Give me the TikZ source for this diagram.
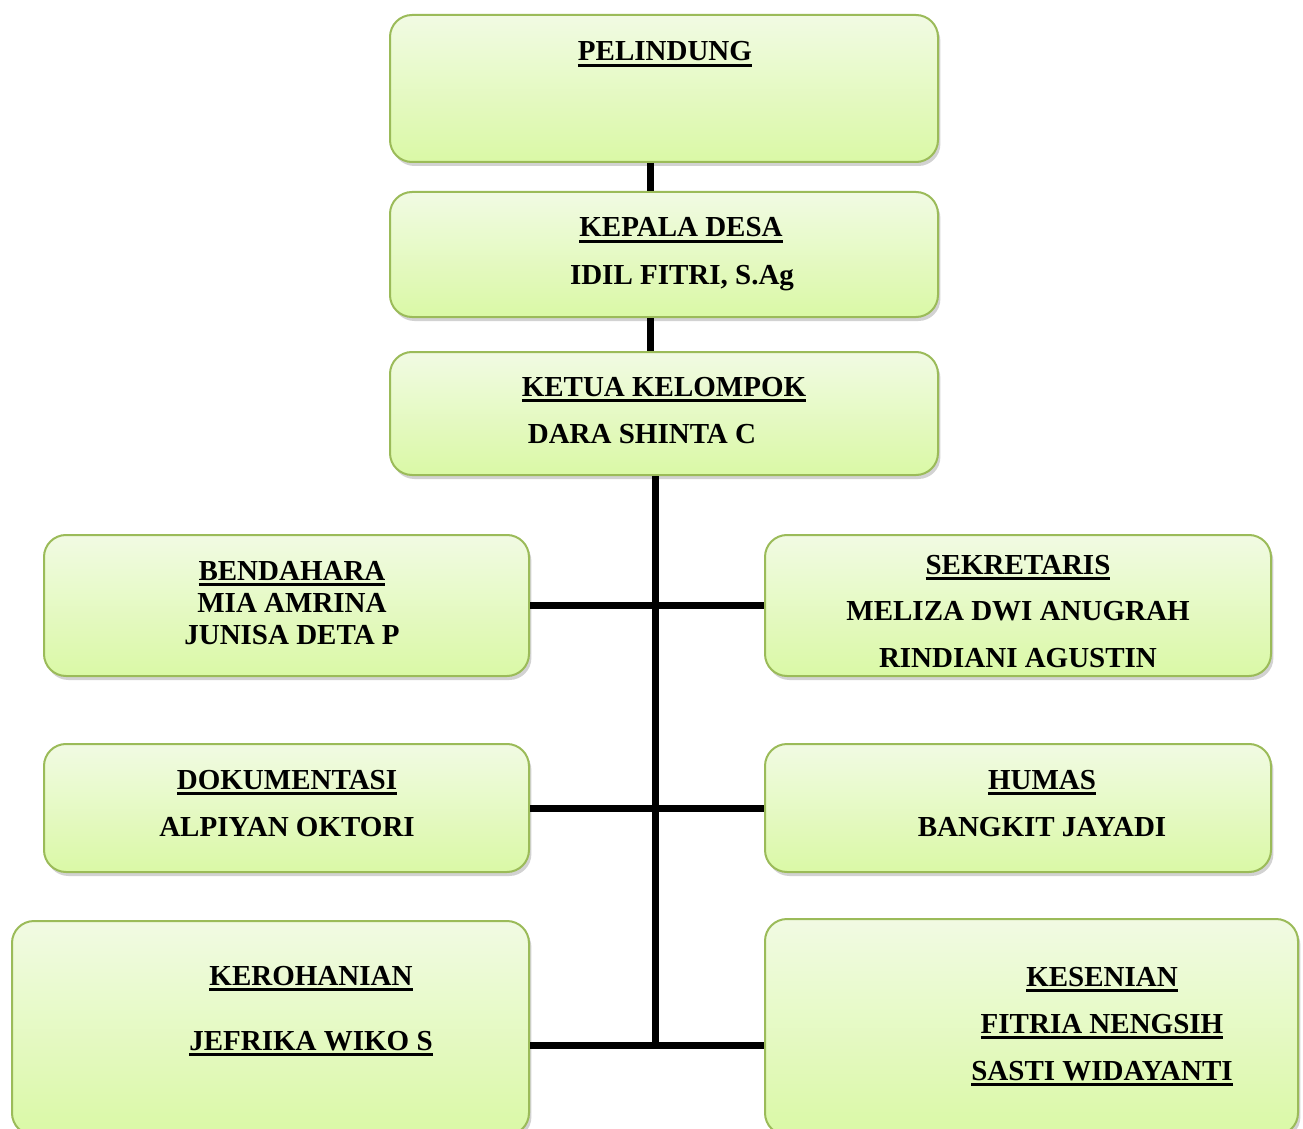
\documentclass[tikz,border=0pt]{standalone}
\usepackage{fontspec}
\setmainfont{Liberation Serif}
\usepackage{tikz}
\usetikzlibrary{shadows}
\definecolor{boxtop}{RGB}{241,250,227}
\definecolor{boxbot}{RGB}{218,249,166}
\definecolor{boxline}{RGB}{155,187,89}
\newcommand{\hd}[1]{\setbox0\hbox{#1}\rlap{\rule[-2.8pt]{\wd0}{1.4pt}}\box0}
\tikzset{x=0.5pt,y=-0.5pt,
box/.style={draw=boxline,line width=1pt,rounded corners=11pt,top color=boxtop,bottom color=boxbot,
  drop shadow={opacity=0.25,fill=black!70,shadow xshift=1.2pt,shadow yshift=-2pt}},
conn/.style={line width=3.5pt,draw=black},
lbl/.style={anchor=base,inner sep=0pt,font=\bfseries\fontsize{14.5}{17}\selectfont}}

\begin{document}
\begin{tikzpicture}
\useasboundingbox (0,0) rectangle (1303,1129);
\clip (0,0) rectangle (1303,1129);
\coordinate (t3) at (655,1045);
% boxes
\node (pel) at (664,88.5) [box,minimum width=274pt,minimum height=73.5pt] {};
\node (kades) at (664,254.5) [box,minimum width=274pt,minimum height=62.5pt] {};
\node (ketua) at (664,413.5) [box,minimum width=274pt,minimum height=61.5pt] {};
\node (bend) at (286.5,605.5) [box,minimum width=242.5pt,minimum height=70.5pt] {};
\node (sekr) at (1018,605.5) [box,minimum width=253pt,minimum height=70.5pt] {};
\node (dok) at (286.5,808) [box,minimum width=242.5pt,minimum height=64pt] {};
\node (humas) at (1018,808) [box,minimum width=253pt,minimum height=64pt] {};
\node (kero) at (270.5,1028) [box,minimum width=258.5pt,minimum height=107pt] {};
\node (kes) at (1031.5,1027) [box,minimum width=266.5pt,minimum height=108pt] {};
% lines between boxes
\draw[conn] ([xshift=-7pt]pel.south) -- ([xshift=-7pt]kades.north);
\draw[conn] ([xshift=-7pt]kades.south) -- ([xshift=-7pt]ketua.north);
\draw[conn] (ketua.south -| t3) -- ([yshift=-1.75pt]t3);
\draw[conn] (bend.east) -- (sekr.west);
\draw[conn] (dok.east) -- (humas.west);
\draw[conn] (kero.east |- t3) -- (kes.west |- t3);
% texts
\node (pelT) at (665,61) [lbl] {\hd{PELINDUNG}};
\node (kadesT) at (681,237) [lbl] {\hd{KEPALA DESA}};
\node (kadesN) at (682,285) [lbl] {IDIL FITRI, S.Ag};
\node (ketuaT) at (664,396) [lbl] {\hd{KETUA KELOMPOK}};
\node (ketuaN) at (642,443) [lbl] {DARA SHINTA C};
\node (bendT) at (292,580) [lbl] {\hd{BENDAHARA}};
\node (bendA) at (292,612) [lbl] {MIA AMRINA};
\node (bendB) at (292,644) [lbl] {JUNISA DETA P};
\node (sekrT) at (1018,574) [lbl] {\hd{SEKRETARIS}};
\node (sekrA) at (1018,620) [lbl] {MELIZA DWI ANUGRAH};
\node (sekrB) at (1018,667) [lbl] {RINDIANI AGUSTIN};
\node (dokT) at (287,789) [lbl] {\hd{DOKUMENTASI}};
\node (dokN) at (287,836) [lbl] {ALPIYAN OKTORI};
\node (humasT) at (1042,789) [lbl] {\hd{HUMAS}};
\node (humasN) at (1042,836) [lbl] {BANGKIT JAYADI};
\node (keroT) at (311,985) [lbl] {\hd{KEROHANIAN}};
\node (keroN) at (311,1050) [lbl] {\hd{JEFRIKA WIKO S}};
\node (kesT) at (1102,986) [lbl] {\hd{KESENIAN}};
\node (kesA) at (1102,1033) [lbl] {\hd{FITRIA NENGSIH}};
\node (kesB) at (1102,1080) [lbl] {\hd{SASTI WIDAYANTI}};
\end{tikzpicture}
\end{document}
